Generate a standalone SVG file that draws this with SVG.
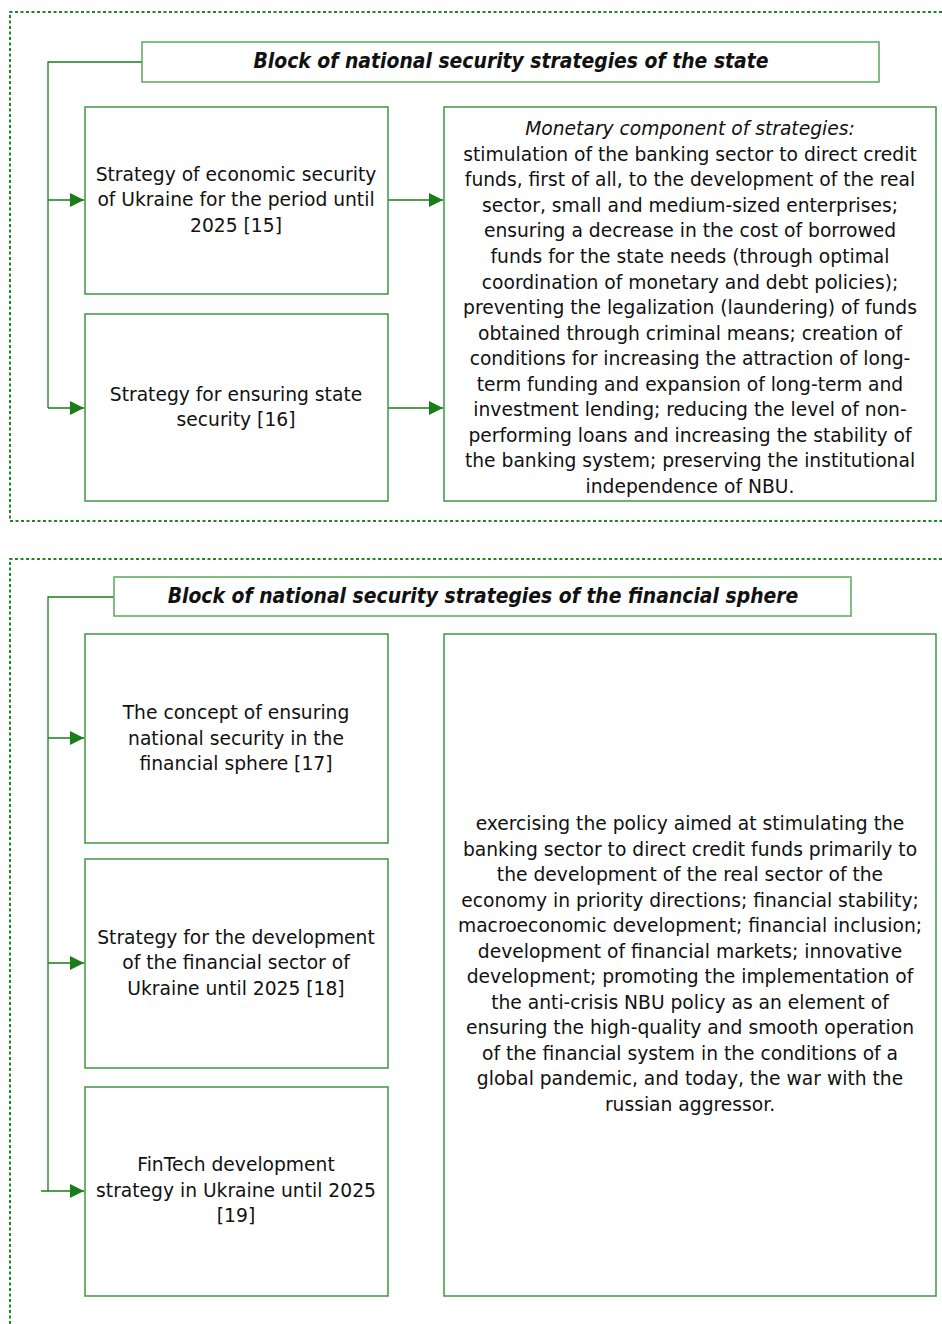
<svg xmlns="http://www.w3.org/2000/svg" width="942" height="1324" viewBox="0 0 942 1324">
<style>
.frame{fill:none;stroke:#1e8a1e;stroke-width:2;stroke-dasharray:3 2.5}
.box{fill:#fff;stroke:#3f963f;stroke-width:1.5}
.tbox{fill:#fff;stroke:#5aa85a;stroke-width:1.5}
.con{fill:none;stroke:#1a7d1a;stroke-width:1.3}
text{font-family:"DejaVu Sans",sans-serif;font-size:18.7px;fill:#111;text-anchor:middle}
.title{font-family:"DejaVu Sans Condensed","DejaVu Sans",sans-serif;font-weight:bold;font-style:italic;font-size:20.9px}
.it{font-style:italic}
</style>
<defs>
<marker id="ah" viewBox="0 0 10 10" refX="10" refY="5" markerWidth="14" markerHeight="14" markerUnits="userSpaceOnUse" orient="auto">
<path d="M0,0 L10,5 L0,10 z" fill="#1a7d1a"/>
</marker>
</defs>
<path class="frame" d="M942,12 H10 V521 H942"/>
<path class="frame" d="M942,559 H10 V1324"/>
<g id="connectors">
<path class="con" d="M142,62 H48 V408"/>
<path class="con" d="M48,200 H84" marker-end="url(#ah)"/>
<path class="con" d="M48,408 H84" marker-end="url(#ah)"/>
<path class="con" d="M388,200 H443" marker-end="url(#ah)"/>
<path class="con" d="M388,408 H443" marker-end="url(#ah)"/>
<path class="con" d="M114,597 H48 V1191"/>
<path class="con" d="M48,738 H84" marker-end="url(#ah)"/>
<path class="con" d="M48,963 H84" marker-end="url(#ah)"/>
<path class="con" d="M41,1191 H84" marker-end="url(#ah)"/>
</g>
<g id="title1">
<rect class="tbox" x="142" y="42" width="737" height="40"/>
<text class="title" x="511" y="68">Block of national security strategies of the state</text>
</g>
<g id="econ">
<rect class="box" x="85" y="107" width="303" height="187"/>
<text x="236" y="181">Strategy of economic security</text>
<text x="236" y="206">of Ukraine for the period until</text>
<text x="236" y="232">2025 [15]</text>
</g>
<g id="statesec">
<rect class="box" x="85" y="314" width="303" height="187"/>
<text x="236" y="401">Strategy for ensuring state</text>
<text x="236" y="426">security [16]</text>
</g>
<g id="monetary">
<rect class="box" x="444" y="107" width="492" height="394"/>
<text class="it" x="690" y="135">Monetary component of strategies:</text>
<text x="690" y="161">stimulation of the banking sector to direct credit</text>
<text x="690" y="186">funds, first of all, to the development of the real</text>
<text x="690" y="212">sector, small and medium-sized enterprises;</text>
<text x="690" y="237">ensuring a decrease in the cost of borrowed</text>
<text x="690" y="263">funds for the state needs (through optimal</text>
<text x="690" y="289">coordination of monetary and debt policies);</text>
<text x="690" y="314">preventing the legalization (laundering) of funds</text>
<text x="690" y="340">obtained through criminal means; creation of</text>
<text x="690" y="365">conditions for increasing the attraction of long-</text>
<text x="690" y="391">term funding and expansion of long-term and</text>
<text x="690" y="416">investment lending; reducing the level of non-</text>
<text x="690" y="442">performing loans and increasing the stability of</text>
<text x="690" y="467">the banking system; preserving the institutional</text>
<text x="690" y="493">independence of NBU.</text>
</g>
<g id="title2">
<rect class="tbox" x="114" y="577" width="737" height="39"/>
<text class="title" x="483" y="603">Block of national security strategies of the financial sphere</text>
</g>
<g id="concept">
<rect class="box" x="85" y="634" width="303" height="209"/>
<text x="236" y="719">The concept of ensuring</text>
<text x="236" y="745">national security in the</text>
<text x="236" y="770">financial sphere [17]</text>
</g>
<g id="finsector">
<rect class="box" x="85" y="859" width="303" height="209"/>
<text x="236" y="944">Strategy for the development</text>
<text x="236" y="969">of the financial sector of</text>
<text x="236" y="995">Ukraine until 2025 [18]</text>
</g>
<g id="fintech">
<rect class="box" x="85" y="1087" width="303" height="209"/>
<text x="236" y="1171">FinTech development</text>
<text x="236" y="1197">strategy in Ukraine until 2025</text>
<text x="236" y="1222">[19]</text>
</g>
<g id="policy">
<rect class="box" x="444" y="634" width="492" height="662"/>
<text x="690" y="830">exercising the policy aimed at stimulating the</text>
<text x="690" y="856">banking sector to direct credit funds primarily to</text>
<text x="690" y="881">the development of the real sector of the</text>
<text x="690" y="907">economy in priority directions; financial stability;</text>
<text x="690" y="932">macroeconomic development; financial inclusion;</text>
<text x="690" y="958">development of financial markets; innovative</text>
<text x="690" y="983">development; promoting the implementation of</text>
<text x="690" y="1009">the anti-crisis NBU policy as an element of</text>
<text x="690" y="1034">ensuring the high-quality and smooth operation</text>
<text x="690" y="1060">of the financial system in the conditions of a</text>
<text x="690" y="1085">global pandemic, and today, the war with the</text>
<text x="690" y="1111">russian aggressor.</text>
</g>
</svg>
